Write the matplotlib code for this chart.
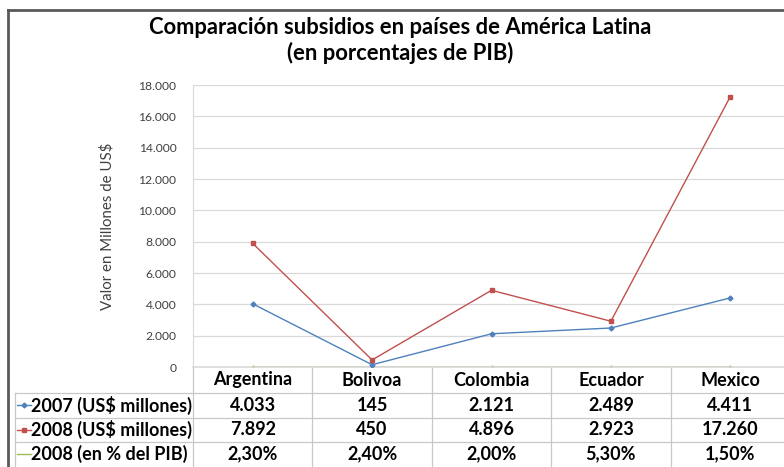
import numpy as np
import matplotlib.pyplot as plt
from matplotlib.lines import Line2D
from matplotlib.ticker import FuncFormatter
from matplotlib.transforms import blended_transform_factory

# ---- Datos ----
paises = ["Argentina", "Bolivoa", "Colombia", "Ecuador", "Mexico"]
usd_2007 = [4033, 145, 2121, 2489, 4411]
usd_2008 = [7892, 450, 4896, 2923, 17260]
pib_2008 = [2.30, 2.40, 2.00, 5.30, 1.50]

series = ["2007 (US$ millones)", "2008 (US$ millones)", "2008 (en % del PIB)"]
colores = ["#4F81BD", "#C0504D", "#9BBB59"]
marcadores = ["D", "s", "^"]

plt.rcParams['font.family'] = ['Lato', 'DejaVu Sans']

W, H = 784, 467
fig = plt.figure(figsize=(W / 100, H / 100), dpi=100)


def fx(px):
    return px / W


def fy(py):
    return 1 - py / H


def miles(v):
    return f"{int(v):,}".replace(",", ".")


def pct(v):
    return f"{v:.2f}%".replace(".", ",")


ax = fig.add_axes([fx(193), fy(367), fx(790) - fx(193), (367 - 85) / H])
x = np.arange(len(paises))
valores = [usd_2007, usd_2008, pib_2008]
for vals, c, m, z in zip(valores, colores, marcadores, [3, 3, 2]):
    ax.plot(x, vals, color=c, lw=1, marker=m, ms=2.5, zorder=z)

ax.set_xlim(-0.5, len(paises) - 0.5)
ax.set_ylim(0, 18000)
ax.set_yticks(np.arange(0, 18001, 2000))
ax.yaxis.set_major_formatter(FuncFormatter(lambda v, p: miles(v)))
ax.tick_params(axis='y', length=0, pad=12, labelsize=8.7, labelcolor='#404040')
ax.tick_params(axis='x', length=0, labelbottom=False)
ax.grid(axis='y', color='#D9D9D9', lw=0.9)
ax.set_axisbelow(True)
for s in ['top', 'right']:
    ax.spines[s].set_visible(False)
ax.spines['left'].set_color('#D9D9D9')
ax.spines['bottom'].set_color('#D9D9D9')
ax.spines['bottom'].set_linewidth(1.2)
ax.set_ylabel("Valor en Millones de US$", fontsize=10.8, color='#404040', labelpad=17)

# ---- Titulo ----
fig.text(fx(400), fy(27), "Comparación subsidios en países de América Latina",
         ha='center', va='center', fontsize=15.8, fontweight='bold')
fig.text(fx(400), fy(53), "(en porcentajes de PIB)",
         ha='center', va='center', fontsize=15.8, fontweight='bold')

# ---- Tabla de datos ----
tr = blended_transform_factory(ax.transData, fig.transFigure)
linea = '#C8C8C8'
filas = [393, 417.5, 442, 466.5]
for i in range(len(paises) + 1):
    ax.plot([i - 0.5, i - 0.5], [fy(367), fy(467)], color=linea, lw=0.9,
            transform=tr, clip_on=False)
for yl in filas[:-1]:
    fig.add_artist(Line2D([fx(15), fx(790)], [fy(yl), fy(yl)], color=linea, lw=0.9))
fig.add_artist(Line2D([fx(15), fx(15)], [fy(393), fy(467)], color=linea, lw=0.9))

for i, p in enumerate(paises):
    ax.text(i, fy(380), p, transform=tr, ha='center', va='center',
            fontsize=13, fontweight='bold', clip_on=False)

textos = [[miles(v) for v in usd_2007], [miles(v) for v in usd_2008],
          [pct(v) for v in pib_2008]]
for r in range(3):
    yc = (filas[r] + filas[r + 1]) / 2
    fig.add_artist(Line2D([fx(17), fx(31)], [fy(yc), fy(yc)], color=colores[r], lw=1))
    if r < 2:
        fig.add_artist(Line2D([fx(24)], [fy(yc)], color=colores[r],
                              marker=marcadores[r], ms=2.5))
    fig.text(fx(31), fy(yc), series[r], ha='left', va='center',
             fontsize=13, fontweight='bold')
    for i, t in enumerate(textos[r]):
        ax.text(i, fy(yc), t, transform=tr, ha='center', va='center',
                fontsize=13, fontweight='bold', clip_on=False)

# ---- Marco ----
fig.add_artist(Line2D([fx(8), fx(8)], [fy(10), fy(467)], color='#595959', lw=2))
fig.add_artist(Line2D([fx(8), fx(784)], [fy(10), fy(10)], color='#595959', lw=2))

fig.savefig("out.png", dpi=100)
